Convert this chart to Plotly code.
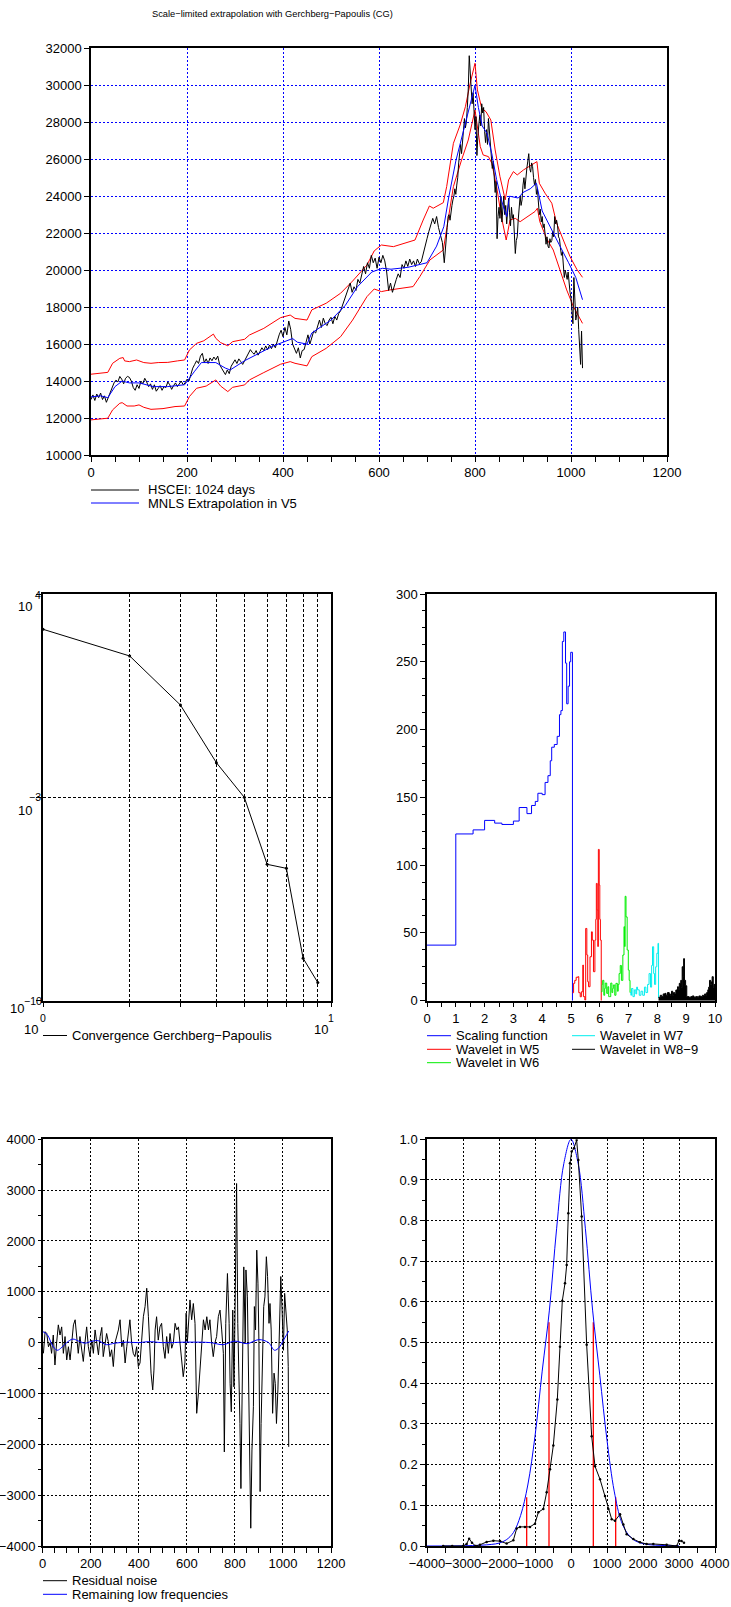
import plotly.graph_objects as go

W, H = 731, 1607


def px(x):
    return x / W


def py(y):
    return 1 - y / H


# ---------------- Top chart data: HSCEI 1024 days ----------------
hs_days = list(range(0, 737, 4)) + list(range(738, 1025, 2))
hs_val = [
    # 0..200 (step 4)
    13000, 13250, 12950, 13300, 13100, 13350, 13000, 13200, 12850, 13100,
    13450, 13700, 13900, 14050, 13950, 14250, 14100, 13850, 14150, 14250,
    14200, 14000, 13650, 13500, 13800, 13600, 14000, 13850, 14150, 13950,
    13700, 13850, 13550, 13800, 13450, 13600, 13750, 13500, 13700, 13650,
    13950, 13800, 13550, 13750, 13900, 13700, 13850, 14000, 13800, 13900,
    14100,
    # 204..400
    14000, 14350, 14700, 14900, 15100, 14950, 15350, 15500, 15000, 15200,
    14950, 15250, 15100, 15300, 15150, 15350, 14900, 14700, 14500, 14350,
    14600, 14400, 14800, 15000, 15150, 14950, 15200, 15050, 14900, 15100,
    15300, 15500, 15700, 15550, 15450, 15650, 15400, 15600, 15800, 15650,
    15900, 15700, 15950, 15750, 16000, 15800, 16200, 16500, 16750, 16400,
    # 404..600
    16900, 16500, 17250, 16800, 16000, 15700, 15500, 15800, 15250, 15650,
    15700, 16100, 16500, 16000, 16400, 16700, 16600, 17000, 17300, 16900,
    17400, 17100, 17000, 17300, 17450, 17100, 17500, 17300, 17650, 17800,
    18100, 18400, 18800, 19100, 19300, 18800, 19100, 18900, 19500, 19300,
    19700, 20200, 19800, 20400, 20100, 20800, 20400, 20650, 20100, 20700,
    # 604..736
    20400, 20800, 20500, 19900, 18900, 19300, 18800, 19200, 19500, 19800,
    19600, 20300, 20100, 20500, 20200, 20600, 20300, 20500, 20200, 20600,
    20350, 20450, 20900, 21400, 21700, 22100, 22400, 22800, 22500, 22900,
    22300, 21900, 21500, 20400,
    # 738..850 (step 2)
    21200, 21600, 22300, 22900, 23000, 22700, 23300, 23500, 23800, 24000,
    24400, 24100, 24600, 25000, 25800, 26400, 26800, 26300, 27100, 27600,
    28200, 27700, 28000, 28800, 29800, 31600, 30800, 29400, 29000, 29600,
    28600, 27600, 28300, 26200, 27300, 28000, 28400, 27800, 29000, 28500,
    28800, 27500, 26900, 27600, 26800, 28200, 27400, 27100, 26400, 25500,
    25900, 25000, 24200, 24800, 21700, 22900, 23400,
    # 852..1024
    22800, 24000, 22600, 23600, 24000, 23000, 23500, 22500, 23200, 23900,
    23100, 22400, 23400, 22800, 23000, 22000, 20900, 21600, 21800, 22700,
    23200, 24000, 23500, 23800, 24600, 25000, 24400, 25300, 25500, 25900,
    26300, 25500, 25300, 25800, 25600, 25000, 24600, 24900, 24100, 24400,
    23600, 23000, 23300, 22600, 22900, 22300, 22500, 21900, 21400, 21800,
    21300, 21200, 21700, 21500, 21600, 22100, 21800, 22900, 22500, 22700,
    22400, 21800, 21700, 21200, 20800, 21000, 20200, 19600, 20000, 19700,
    19500, 19900, 19200, 18800, 18500, 17400, 17100, 19600, 18000, 17300,
    17600, 18000, 16800, 15700, 14900, 16700, 14700,
]

mnls_days = [0, 20, 35, 50, 65, 80, 100, 130, 160, 195, 215, 230, 260, 280, 290, 320, 350, 380, 400, 420,
             430, 450, 460, 500, 530, 555, 585, 607, 625, 660, 700, 720, 735, 745, 760, 780, 800, 807, 815, 825,
             835, 845, 856, 866, 872, 890, 900, 915, 928, 940, 955, 975, 995, 1010, 1024]
mnls_val = [13140, 13200, 13100, 13700, 14000, 13900, 13900, 13700, 13700, 13800,
            14500, 15000, 15000, 14700, 14600, 15100, 15500, 15900, 16100, 16300,
            16100, 16000, 16600, 17300, 18100, 19100, 19900, 20100, 20050, 20150,
            20400, 21300, 22350, 23900, 25900, 27900, 30000, 28800, 27800, 27400,
            26300, 24900, 23700, 22900, 24000, 23900, 24200, 24400, 24700, 23200,
            22400, 21400, 20400, 19600, 18400]

upper_days = [0, 35, 45, 60, 67, 70, 80, 95, 110, 125, 140, 160, 180, 195, 205, 220, 235, 255, 260, 270,
              285, 295, 320, 330, 360, 395, 415, 425, 450, 460, 490, 520, 545, 575, 590, 605, 630, 675, 692, 705,
              713, 724, 734, 741, 748, 755, 769, 780, 790, 800, 805, 814, 823, 833, 842, 852, 863, 870, 880, 888,
              901, 913, 929, 934, 946, 960, 970, 984, 998, 1012, 1024]
upper_val = [14370, 14470, 14960, 15230, 15270, 15090, 15050, 15140, 15000, 14960,
             15000, 15010, 15090, 15140, 15680, 16040, 16180, 16540, 16310, 16080,
             15910, 16130, 16260, 16490, 16850, 17430, 17570, 17390, 17300, 17850,
             18210, 18750, 19410, 20280, 21040, 21360, 21270, 21630, 22710, 23470,
             23350, 23490, 23650, 24520, 25780, 26860, 27850, 28840, 30110, 31190,
             29750, 28750, 28570, 28120, 26500, 25060, 23800, 24880, 25330, 25150,
             25420, 25600, 25870, 24700, 24160, 23620, 22540, 21630, 20730, 20050,
             19610]

lower_days = [0, 35, 45, 60, 65, 75, 90, 100, 110, 125, 150, 175, 195, 205, 220, 240, 260, 270, 285, 295,
              320, 330, 360, 395, 415, 425, 450, 460, 490, 520, 545, 575, 590, 605, 623, 671, 685, 706, 734, 745,
              755, 772, 786, 800, 805, 811, 817, 828, 835, 845, 855, 865, 873, 884, 894, 908, 925, 930, 935, 949,
              963, 977, 991, 1005, 1024]
lower_val = [11900, 11990, 12440, 12800, 12830, 12650, 12650, 12710, 12580, 12470,
             12510, 12620, 12650, 13160, 13610, 13730, 14060, 13730, 13430, 13660,
             13790, 14060, 14460, 14910, 15050, 14960, 14820, 15320, 15770, 16400,
             17300, 18570, 18980, 18840, 18930, 19110, 19650, 20550, 21090, 22890,
             24520, 25960, 27040, 28660, 27760, 26680, 26230, 26140, 25780, 24520,
             22890, 21630, 22710, 22800, 22620, 22890, 23170, 23350, 22620, 21720,
             21090, 20010, 18930, 18030, 17120]

# ---------------- Convergence (log-log) ----------------
conv_iter = [1, 2, 3, 4, 5, 6, 7, 8, 9]
conv_err = [610, 73.5, 1.51, 0.0156, 0.001, 4.95e-6, 3.6e-6, 2.9e-9, 4.2e-10]

# ---------------- Scale spectrum ----------------
scal_x = [0, 1, 1.6, 2.0, 2.35, 2.6, 3.0, 3.2, 3.47, 3.63, 3.76, 3.85, 4.0, 4.1, 4.2, 4.28, 4.33, 4.42, 4.52,
          4.6, 4.65, 4.7, 4.75, 4.81, 4.85, 4.9, 4.95, 4.99, 5.05]
scal_y = [41, 123, 126, 133, 131, 130, 132.5, 142.5, 138, 144, 147, 153, 152, 161, 166, 177, 187, 189, 195,
          211, 214, 265, 272, 249, 219, 232, 250, 257, 0]

w5_x = [5.05, 5.09, 5.13, 5.18, 5.24, 5.27, 5.32, 5.36, 5.41, 5.43, 5.48, 5.51, 5.55, 5.58, 5.61, 5.66, 5.71,
        5.74, 5.78, 5.83, 5.86, 5.88, 5.91, 5.93, 5.95, 5.98, 6.0, 6.02, 6.05]
w5_y = [5.9, 12.8, 15, 17.3, 17.7, 5.9, 2.9, 6.6, 26.3, 3, 0.5, 53.3, 33.7, 14, 10.3, 32.4, 50.8, 44.7, 21.4,
        44.7, 60, 86.5, 66.9, 40, 111.6, 85.3, 60, 44.7, 0]

w6_x = [6.05, 6.08, 6.1, 6.14, 6.17, 6.19, 6.24, 6.28, 6.31, 6.33, 6.38, 6.42, 6.45, 6.47, 6.52, 6.56, 6.61,
        6.64, 6.67, 6.71, 6.75, 6.8, 6.84, 6.86, 6.88, 6.91, 6.95, 6.99, 7.02, 7.05]
w6_y = [6.6, 12, 15, 4, 9, 13, 5.4, 10.3, 3, 3, 13, 6, 9, 11.6, 4, 12.8, 7, 12, 20, 26, 15, 33.7, 54.6, 40, 77,
        61.8, 37.4, 22.6, 15, 6]

w7_x = [7.05, 7.08, 7.1, 7.15, 7.2, 7.25, 7.28, 7.31, 7.37, 7.43, 7.49, 7.55, 7.6, 7.66, 7.71, 7.76, 7.8,
        7.83, 7.87, 7.9, 7.94, 7.98, 8.02, 8.04]
w7_y = [6, 4, 9, 3, 8, 5, 10, 8, 4, 7, 4, 10, 6, 12, 20, 10, 26, 39.8, 20, 12, 25, 35, 42.3, 2]

w8_x = [8.04, 8.1, 8.15, 8.2, 8.26, 8.3, 8.35, 8.41, 8.45, 8.49, 8.53, 8.56, 8.6, 8.64, 8.7, 8.73, 8.76, 8.81,
        8.84, 8.86, 8.89, 8.91, 8.94, 8.98, 9.02, 9.1, 9.16, 9.21, 9.27, 9.33, 9.4, 9.44, 9.5, 9.56, 9.6, 9.64,
        9.68, 9.71, 9.75, 9.78, 9.81, 9.85, 9.88, 9.9, 9.94, 9.97, 10.0]
w8_y = [2.5, 4, 3, 5, 5.4, 4, 6, 5, 3.5, 7, 4, 6, 5, 7.9, 10.3, 8, 12.8, 15, 10, 25, 18, 31, 15, 11, 3, 2.5, 3,
        3.5, 2.5, 3, 2.5, 3.5, 3, 4, 3.5, 5, 4, 6, 8, 10, 15, 12, 14, 17.7, 10, 12, 10]

# ---------------- Residual noise ----------------
res_days = [3, 10, 17, 24, 31, 37, 44, 51, 58, 65, 72, 79, 86, 93, 100, 107, 114, 121, 128, 135,
            142, 148, 155, 162, 169, 176, 183, 190, 197, 204, 211, 218, 225, 232, 239, 246, 252, 259, 266, 273,
            280, 287, 294, 301, 308, 315, 322, 329, 336, 343, 350, 357, 363, 370, 377, 384, 391, 398, 405, 412,
            419, 426, 433, 440, 447, 451, 458, 463, 468, 474, 481, 488, 495, 502, 509, 516, 523, 530, 537, 544,
            551, 558, 565, 572, 579, 585, 592, 597, 602, 608, 613, 620, 627, 634, 641, 648, 655, 662, 669, 676,
            683, 690, 696, 703, 710, 717, 724, 731, 738, 745, 752, 756, 762, 769, 776, 780, 785, 791, 796, 800,
            807, 812, 816, 821, 825, 831, 837, 843, 846, 852, 857, 861, 866, 871, 877, 881, 886, 891, 896, 900,
            905, 909, 914, 920, 925, 931, 936, 942, 946, 951, 957, 963, 968, 973, 979, 985, 991, 996, 1002, 1007,
            1013, 1018, 1022, 1024]
res_val = [-210, 216, 180, -80, 0, -210, 150, -440, 0, 350, 150, 310, -210, 120, -340, -80, -340, 0, 350, 450,
           85, -210, 120, -110, -370, 0, 310, -80, -275, 50, -210, 250, 0, -240, 120, 300, -275, -80, 180, 20,
           -275, -140, -470, 0, 120, 250, 450, -80, 50, -400, -80, 280, 450, 0, -210, -275, -80, -470, -400, 50,
           510, 710, 1070, 510, -275, -600, -930, -540, 250, 510, 50, 310, 380, -80, -310, 120, -210, 180, -110, 0,
           380, 250, 310, 0, -440, -670, -400, 580, 0, 380, 840, 450, 770, 380, -1390, -1000, -540, 0, 450, 250,
           510, 250, 450, 0, -275, 0, 120, 510, 640, 250, -210, -2150, 380, 1360, 380, -800, -1360, 640, -870, 380,
           3130, 380, -400, -1590, -2870, -270, 1490, 0, 1430, 900, -720, -2240, -3650, -2110, -1260, 710, 250,
           1820, 1170, 0, -2930, -1590, -400, 710, 900, 1690, 1300, 380, 770, 250, -1390, -600, -800, -1590, -930,
           380, 1300, 700, -150, 970, 500, 250, -470, -2050]

low_days = [0, 20, 40, 60, 80, 100, 125, 150, 175, 200, 230, 265, 300, 350, 400, 440, 500, 600, 700, 750,
            800, 850, 900, 940, 965, 985, 1000, 1024]
low_val = [220, 150, -50, -150, -90, 0, 70, 30, -10, 20, 40, -40, -10, 10, 0, 20, 0, 10, 0, -40,
           30, -20, 60, 0, -150, -90, 30, 230]

# ---------------- Noise distribution ----------------
gauss_x = [-4000, -3000, -2500, -2200, -2000, -1800, -1600, -1400, -1200, -1000, -800, -600, -400, -200, 0,
           200, 400, 600, 800, 1000, 1200, 1400, 1600, 1800, 2000, 2200, 2500, 3000]
gauss_y = [0, 0.0005, 0.002, 0.004, 0.007, 0.015, 0.033, 0.075, 0.15, 0.27, 0.43, 0.58, 0.78, 0.94, 1.0,
           0.94, 0.78, 0.58, 0.42, 0.26, 0.135, 0.06, 0.027, 0.012, 0.006, 0.003, 0.0015, 0.0003]

emp_x = [-3550, -3300, -3000, -2900, -2830, -2750, -2650, -2528, -2343, -2157, -1972, -1787, -1602, -1509,
         -1417, -1280, -1139, -1000, -907, -769, -676, -583, -491, -380, -306, -241, -167, -120, -74, -28,
         19, 83, 157, 204, 296, 435, 574, 667, 806, 944, 1037, 1130, 1222, 1361, 1454, 1546, 1731, 1917,
         2100, 2287, 2657, 2935, 3000, 3070, 3139]
emp_y = [0, 0, 0, 0.005, 0.018, 0.008, 0, 0.003, 0.01, 0.013, 0.012, 0.006, 0.014, 0.043, 0.047, 0.047,
         0.047, 0.055, 0.083, 0.091, 0.132, 0.189, 0.247, 0.36, 0.49, 0.603, 0.646, 0.691, 0.818, 0.941,
         0.97, 0.978, 0.998, 0.949, 0.81, 0.495, 0.27, 0.196, 0.164, 0.123, 0.091, 0.066, 0.062, 0.078,
         0.053, 0.029, 0.017, 0.009, 0.005, 0.005, 0.003, 0.0, 0.013, 0.012, 0.008]

sigma_x = [-1231, -611, 620, 1241]
sigma_h = [0.12, 0.55, 0.55, 0.12]

# ---------------- Figure ----------------
FONT = "Liberation Sans, Arial, sans-serif"
fig = go.Figure()

# Top panel
fig.add_trace(go.Scatter(x=upper_days, y=upper_val, mode="lines", line=dict(color="red", width=1),
                         xaxis="x", yaxis="y", hoverinfo="skip"))
fig.add_trace(go.Scatter(x=lower_days, y=lower_val, mode="lines", line=dict(color="red", width=1),
                         xaxis="x", yaxis="y", hoverinfo="skip"))
fig.add_trace(go.Scatter(x=hs_days, y=hs_val, mode="lines", line=dict(color="black", width=1),
                         xaxis="x", yaxis="y", name="HSCEI: 1024 days"))
fig.add_trace(go.Scatter(x=mnls_days, y=mnls_val, mode="lines", line=dict(color="blue", width=1),
                         xaxis="x", yaxis="y", name="MNLS Extrapolation in V5"))

# Convergence
fig.add_trace(go.Scatter(x=conv_iter, y=conv_err, mode="lines+markers",
                         line=dict(color="black", width=1), marker=dict(color="black", size=3),
                         xaxis="x2", yaxis="y2", name="Convergence Gerchberg−Papoulis"))

# Spectrum
fig.add_trace(go.Scatter(x=scal_x, y=scal_y, mode="lines", line=dict(color="blue", width=1, shape="hv"),
                         xaxis="x3", yaxis="y3", name="Scaling function"))
fig.add_trace(go.Scatter(x=w5_x, y=w5_y, mode="lines", line=dict(color="red", width=1, shape="hv"),
                         xaxis="x3", yaxis="y3", name="Wavelet in W5"))
fig.add_trace(go.Scatter(x=w6_x, y=w6_y, mode="lines", line=dict(color="#00ee00", width=1, shape="hv"),
                         xaxis="x3", yaxis="y3", name="Wavelet in W6"))
fig.add_trace(go.Scatter(x=w7_x, y=w7_y, mode="lines", line=dict(color="#00eeee", width=1, shape="hv"),
                         xaxis="x3", yaxis="y3", name="Wavelet in W7"))
fig.add_trace(go.Scatter(x=w8_x, y=w8_y, mode="lines", line=dict(color="black", width=1, shape="hv"),
                         fill="tozeroy", fillcolor="black",
                         xaxis="x3", yaxis="y3", name="Wavelet in W8−9"))

# Residual noise
fig.add_trace(go.Scatter(x=res_days, y=res_val, mode="lines", line=dict(color="black", width=1),
                         xaxis="x4", yaxis="y4", name="Residual noise"))
fig.add_trace(go.Scatter(x=low_days, y=low_val, mode="lines", line=dict(color="blue", width=1, shape="spline"),
                         xaxis="x4", yaxis="y4", name="Remaining low frequencies"))

# Distribution
sx, sy = [], []
for xv, hv in zip(sigma_x, sigma_h):
    sx += [xv, xv, None]
    sy += [0, hv, None]
fig.add_trace(go.Scatter(x=sx, y=sy, mode="lines", line=dict(color="red", width=1.3),
                         xaxis="x5", yaxis="y5", hoverinfo="skip"))
fig.add_trace(go.Scatter(x=gauss_x, y=gauss_y, mode="lines", line=dict(color="blue", width=1, shape="spline"),
                         xaxis="x5", yaxis="y5"))
fig.add_trace(go.Scatter(x=emp_x, y=emp_y, mode="lines+markers", line=dict(color="black", width=1),
                         marker=dict(color="black", size=2.5),
                         xaxis="x5", yaxis="y5"))


def ax(**kw):
    d = dict(showline=True, linecolor="black", linewidth=1.5, mirror=True, ticks="outside", ticklen=5,
             tickwidth=1, tickcolor="black", zeroline=False, showgrid=False, tickangle=0, automargin=False,
             tickfont=dict(size=13, color="black", family=FONT))
    d.update(kw)
    return d


blue_grid = dict(showgrid=True, gridcolor="blue", griddash="2px,2px", gridwidth=1)
black_grid = dict(showgrid=True, gridcolor="black", griddash="2px,2px", gridwidth=1)

TOP_Y = [py(455), py(48.3)]
MID_Y = [py(1000.7), py(594)]
BOT_Y = [py(1546), py(1139.3)]
LEFT_X = [px(43), px(331)]
RIGHT_X = [px(427), px(715)]

fig.update_layout(
    width=W, height=H, margin=dict(l=0, r=0, t=0, b=0, autoexpand=False),
    paper_bgcolor="white", plot_bgcolor="white", showlegend=False,
    font=dict(family=FONT, size=13, color="black"),
    xaxis=ax(domain=[px(91), px(667)], range=[0, 1200], tickmode="linear", tick0=0, dtick=200, anchor="y",
             minor=dict(tick0=0, dtick=50, ticks="outside", ticklen=5, tickcolor="black", showgrid=False),
             **blue_grid),
    yaxis=ax(domain=TOP_Y, range=[10000, 32000], tickmode="linear", tick0=10000, dtick=2000, anchor="x",
             tickformat="d", **blue_grid),
    xaxis2=ax(domain=LEFT_X, type="log", range=[0, 1], tickmode="array", tickvals=[1, 10],
              showticklabels=False, anchor="y2",
              minor=dict(tickmode="array", tickvals=[2, 3, 4, 5, 6, 7, 8, 9], ticks="outside", ticklen=5,
                         tickcolor="black", showgrid=True, gridcolor="black", griddash="3px,2px", gridwidth=1)),
    yaxis2=ax(domain=MID_Y, type="log", range=[-10, 4], tickmode="array", tickvals=[1e-10, 1e-3, 1e4],
              showticklabels=False, anchor="x2",
              showgrid=True, gridcolor="black", griddash="3px,2px", gridwidth=1),
    xaxis3=ax(domain=RIGHT_X, range=[0, 10], tickmode="linear", tick0=0, dtick=1, anchor="y3",
              minor=dict(tick0=0, dtick=0.5, ticks="outside", ticklen=5, tickcolor="black", showgrid=False)),
    yaxis3=ax(domain=MID_Y, range=[0, 300], tickmode="linear", tick0=0, dtick=50, anchor="x3",
              minor=dict(tick0=0, dtick=12.5, ticks="outside", ticklen=3, tickcolor="black", showgrid=False)),
    xaxis4=ax(domain=[px(42.7), px(331)], range=[0, 1200], tickmode="linear", tick0=0, dtick=200, anchor="y4",
              minor=dict(tick0=0, dtick=50, ticks="outside", ticklen=5, tickcolor="black", showgrid=False),
              **black_grid),
    yaxis4=ax(domain=BOT_Y, range=[-4000, 4000], tickmode="linear", tick0=0, dtick=1000, anchor="x4",
              tickformat="d", ticklen=3,
              minor=dict(tick0=0, dtick=500, ticks="outside", ticklen=3, tickcolor="black", showgrid=False),
              **black_grid),
    xaxis5=ax(domain=RIGHT_X, range=[-4000, 4000], tickmode="linear", tick0=0, dtick=1000, anchor="y5",
              tickformat="d",
              minor=dict(tick0=0, dtick=500, ticks="outside", ticklen=5, tickcolor="black", showgrid=False),
              **black_grid),
    yaxis5=ax(domain=BOT_Y, range=[0, 1], tickmode="linear", tick0=0, dtick=0.1, tickformat=".1f", anchor="x5",
              minor=dict(tick0=0, dtick=0.05, ticks="outside", ticklen=3, tickcolor="black", showgrid=False),
              **black_grid),
)

annotations = []
shapes = []


def text(x, y, s, size=13, xanchor="left"):
    annotations.append(dict(x=px(x), y=py(y), xref="paper", yref="paper", text=s, showarrow=False,
                            xanchor=xanchor, yanchor="middle", font=dict(size=size, color="black", family=FONT)))


def legend_item(x0, x1, y, color, label, tx):
    shapes.append(dict(type="line", xref="paper", yref="paper", x0=px(x0), x1=px(x1), y0=py(y), y1=py(y),
                       line=dict(color=color, width=1)))
    text(tx, y, label, size=13)


# Title
text(272.5, 14, "Scale−limited extrapolation with Gerchberg−Papoulis (CG)", size=9.3, xanchor="center")

# Top legend
legend_item(91, 139, 490, "black", "HSCEI: 1024 days", 146)
legend_item(91, 139, 503, "blue", "MNLS Extrapolation in V5", 146)

# Convergence log labels
text(25, 606, "10", xanchor="center")
text(37.5, 595, "4", size=10.5, xanchor="center")
text(25, 810, "10", xanchor="center")
text(35, 797, "−3", size=10.5, xanchor="center")
text(17, 1008, "10", xanchor="center")
text(32.5, 1000.7, "−10", size=10.5, xanchor="center")
text(43, 1017.5, "0", size=10.5, xanchor="center")
text(31, 1029.5, "10", xanchor="center")
text(331, 1017.5, "1", size=10.5, xanchor="center")
text(321, 1029.5, "10", xanchor="center")
legend_item(43, 67, 1035.5, "black", "Convergence Gerchberg−Papoulis", 70)

# Spectrum legend
legend_item(427, 451, 1035.7, "blue", "Scaling function", 454)
legend_item(427, 451, 1049.3, "red", "Wavelet in W5", 454)
legend_item(427, 451, 1062.7, "#00ee00", "Wavelet in W6", 454)
legend_item(572, 595, 1035.7, "#00eeee", "Wavelet in W7", 598)
legend_item(572, 595, 1049.3, "black", "Wavelet in W8−9", 598)

# Residual legend
legend_item(43, 67, 1580.7, "black", "Residual noise", 70)
legend_item(43, 67, 1594.3, "blue", "Remaining low frequencies", 70)

fig.update_layout(annotations=annotations, shapes=shapes)

fig.write_html("out.html")
